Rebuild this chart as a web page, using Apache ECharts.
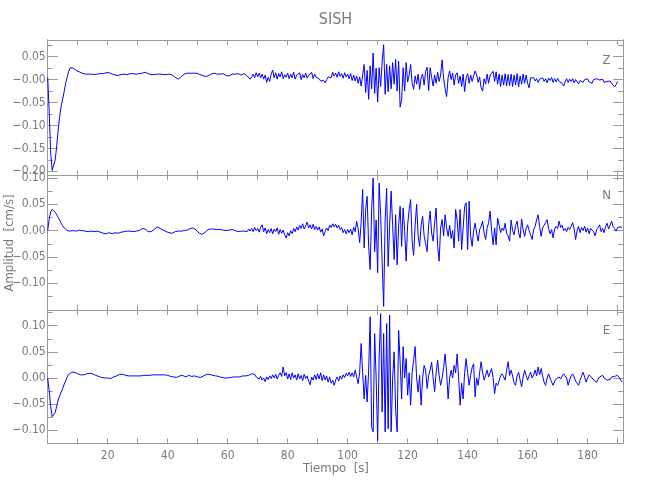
<!DOCTYPE html>
<html><head><meta charset="utf-8">
<script src="https://cdn.jsdelivr.net/npm/echarts@6/dist/echarts.min.js"></script>
<style>html,body{margin:0;padding:0;background:#fff}#c{width:650px;height:500px}</style>
</head><body><div id="c"></div>
<script>
// sample step of the traces (seconds)
const dt = 0.5;

// Z component, one row = 10 s
const zValues = [
0.005,-0.07,-0.16,-0.198,-0.196,-0.175,-0.145,-0.11,-0.08,-0.058,-0.042,-0.026,-0.008,0.006,0.018,0.026,0.027,0.025,0.022,0.02,
0.018,0.017,0.016,0.014,0.013,0.012,0.012,0.012,0.013,0.012,0.012,0.011,0.012,0.012,0.013,0.013,0.012,0.013,0.014,0.015,
0.016,0.015,0.013,0.012,0.011,0.010,0.010,0.009,0.010,0.011,0.011,0.012,0.012,0.011,0.012,0.013,0.012,0.013,0.013,0.012,
0.013,0.013,0.014,0.014,0.015,0.016,0.015,0.013,0.012,0.011,0.010,0.011,0.012,0.012,0.013,0.012,0.012,0.011,0.012,0.011,
0.011,0.012,0.011,0.010,0.008,0.005,0.002,0.001,0.003,0.006,0.009,0.012,0.014,0.014,0.013,0.014,0.015,0.014,0.013,0.014,
0.013,0.012,0.011,0.009,0.008,0.007,0.006,0.008,0.010,0.012,0.013,0.014,0.014,0.012,0.011,0.012,0.013,0.013,0.011,0.009,
0.007,0.008,0.010,0.012,0.013,0.012,0.011,0.013,0.012,0.010,0.012,0.013,0.011,0.008,0.005,0.001,0.006,0.012,0.004,0.015,
0.006,0.014,0.004,0.012,0.001,0.010,-0.006,0.005,-0.004,0.012,0.021,0.004,0.015,0.001,0.013,0.006,0.017,0.002,0.011,0.005,
0.014,0.002,0.012,0.004,0.016,0.001,0.010,0.006,0.015,0.000,0.011,0.004,0.014,0.003,0.009,0.007,0.016,0.002,0.012,0.005,
0.008,0.002,-0.003,-0.006,-0.002,-0.007,0.000,0.006,0.010,0.004,0.016,0.008,0.014,0.005,0.017,0.007,0.013,0.003,0.015,0.006,
0.012,0.002,0.013,-0.002,0.010,-0.003,0.008,-0.008,0.006,-0.014,-0.010,0.033,-0.028,0.020,-0.043,0.030,-0.020,0.058,-0.030,0.025,
-0.049,0.026,-0.015,0.040,0.076,-0.032,0.033,-0.026,0.030,-0.020,0.037,-0.010,0.044,-0.025,0.040,-0.060,-0.045,0.026,-0.025,0.037,
-0.005,0.010,0.033,-0.008,-0.021,0.008,-0.010,0.012,-0.021,0.004,0.012,-0.012,0.018,0.027,-0.024,0.026,0.005,-0.014,0.010,-0.008,
0.016,-0.004,0.010,0.043,0.002,-0.020,-0.037,0.005,0.019,0.000,0.014,-0.012,0.010,0.015,-0.008,0.008,-0.015,0.012,-0.026,0.004,
0.013,-0.008,0.010,-0.004,0.008,0.019,0.010,-0.006,0.006,-0.018,-0.025,0.002,-0.010,0.012,-0.008,0.010,0.006,0.018,-0.004,0.017,
-0.010,0.012,-0.015,0.010,-0.012,0.013,-0.014,0.011,-0.013,0.012,-0.015,0.010,-0.012,0.013,-0.016,0.008,-0.010,0.012,-0.008,0.010,
-0.008,-0.018,0.004,0.000,0.004,-0.003,0.002,-0.006,0.001,-0.003,0.004,-0.004,0.002,-0.007,0.003,-0.002,0.005,-0.006,0.002,-0.005,
0.003,-0.004,0.000,-0.008,-0.014,-0.005,0.002,-0.006,0.001,-0.004,0.002,-0.007,0.000,-0.003,-0.009,-0.002,0.001,-0.006,0.000,-0.004,
0.002,-0.005,-0.002,-0.008,0.000,-0.004,0.002,0.005,-0.001,-0.004,0.001,-0.006,-0.002,-0.004,0.000,-0.003,-0.008,-0.012,-0.016,-0.011,
-0.004
];

// N component
const nValues = [
0.000,0.022,0.036,0.040,0.039,0.035,0.030,0.025,0.020,0.014,0.009,0.005,0.002,0.000,-0.001,-0.001,-0.001,0.000,0.000,-0.001,
0.000,0.001,0.001,0.000,-0.001,-0.001,-0.002,-0.002,-0.001,-0.001,-0.002,-0.002,-0.001,-0.001,-0.002,-0.003,-0.004,-0.005,-0.006,-0.006,
-0.005,-0.004,-0.005,-0.006,-0.005,-0.004,-0.004,-0.005,-0.004,-0.003,-0.002,-0.002,-0.001,-0.001,-0.002,-0.001,-0.001,-0.002,-0.002,-0.001,
-0.001,0.000,0.002,0.004,0.005,0.003,0.000,-0.002,-0.003,-0.002,0.000,0.002,0.005,0.007,0.006,0.004,0.002,0.001,0.000,-0.002,
-0.003,-0.004,-0.004,-0.005,-0.004,-0.002,-0.001,-0.001,-0.002,-0.001,-0.001,0.000,0.000,0.001,0.003,0.004,0.005,0.005,0.003,0.001,
-0.002,-0.005,-0.007,-0.007,-0.006,-0.003,0.000,0.002,0.003,0.003,0.003,0.003,0.002,0.002,0.002,0.002,0.001,0.001,0.001,0.000,
0.000,0.001,0.002,0.002,0.001,0.000,-0.001,-0.002,-0.002,-0.001,-0.003,-0.001,0.002,-0.002,0.003,-0.001,0.004,-0.002,0.006,0.000,
0.004,-0.003,0.006,0.011,-0.002,0.005,-0.006,0.002,-0.004,0.004,-0.006,0.003,-0.002,0.005,-0.007,0.002,-0.005,0.001,-0.008,-0.014,
-0.004,-0.010,0.000,-0.006,0.004,-0.002,0.007,0.001,0.010,0.004,0.013,0.003,0.009,0.016,0.005,0.011,0.003,0.012,0.002,0.008,
0.001,0.007,-0.003,0.003,-0.010,-0.002,0.005,0.000,0.010,0.006,0.013,0.007,0.012,0.005,0.010,0.002,0.006,-0.004,0.002,-0.006,
0.002,-0.004,0.003,-0.008,0.006,-0.002,0.018,0.004,-0.023,0.015,0.078,-0.033,0.040,0.065,-0.030,-0.074,0.040,0.100,-0.040,0.020,
-0.080,0.090,0.030,-0.060,-0.144,0.020,0.080,-0.068,0.010,0.075,0.010,-0.055,0.030,-0.065,0.010,0.046,-0.030,0.043,0.000,-0.058,
0.010,0.040,0.059,-0.020,-0.047,0.010,0.050,-0.010,-0.030,0.010,0.027,-0.010,-0.025,-0.040,0.010,0.037,-0.005,-0.020,0.015,0.043,
-0.030,-0.058,0.005,0.021,-0.010,0.030,0.005,-0.011,0.010,-0.015,0.000,-0.033,0.040,0.020,-0.020,0.040,-0.036,-0.039,0.046,0.053,
-0.036,0.056,-0.010,-0.030,0.000,0.014,-0.005,-0.020,0.002,0.008,0.018,-0.005,-0.017,0.005,0.015,0.037,0.000,-0.027,0.005,-0.027,
0.024,0.010,-0.004,0.005,0.000,0.014,-0.005,-0.010,-0.020,0.020,0.000,-0.008,0.010,0.018,-0.004,-0.014,0.022,0.002,-0.011,0.004,
0.011,0.000,-0.008,-0.017,0.002,0.008,0.020,0.030,0.008,-0.011,0.005,0.010,0.015,0.021,0.004,-0.006,0.002,-0.014,0.003,0.008,
0.004,0.018,0.006,0.010,0.000,0.004,-0.002,0.006,0.002,0.008,0.015,0.004,-0.017,0.000,0.008,-0.004,0.006,0.000,0.008,-0.003,
0.005,-0.006,0.004,0.007,-0.002,-0.010,0.002,0.006,0.011,-0.002,0.004,-0.004,0.008,0.014,0.003,0.010,0.018,0.008,0.004,-0.001,
0.006,0.003,0.007,0.006
];

// E component
const eValues = [
0.000,-0.025,-0.055,-0.074,-0.075,-0.066,-0.054,-0.042,-0.034,-0.027,-0.020,-0.012,-0.005,0.002,0.007,0.010,0.011,0.012,0.011,0.010,
0.008,0.007,0.006,0.006,0.006,0.007,0.008,0.009,0.009,0.009,0.008,0.007,0.005,0.004,0.003,0.002,0.001,0.000,0.000,-0.001,
0.000,0.000,-0.001,0.000,0.002,0.003,0.004,0.006,0.007,0.008,0.007,0.006,0.005,0.005,0.004,0.005,0.004,0.005,0.004,0.005,
0.004,0.005,0.004,0.005,0.005,0.006,0.005,0.006,0.005,0.006,0.006,0.007,0.006,0.007,0.006,0.007,0.006,0.007,0.006,0.006,
0.005,0.004,0.003,0.002,0.002,0.001,0.001,0.002,0.004,0.005,0.005,0.003,0.002,0.004,0.005,0.004,0.003,0.003,0.004,0.003,
0.002,0.002,0.001,0.002,0.004,0.006,0.007,0.008,0.007,0.006,0.005,0.004,0.004,0.004,0.003,0.002,0.001,0.001,0.000,0.000,
0.000,0.001,0.001,0.002,0.002,0.001,0.002,0.003,0.002,0.003,0.004,0.003,0.004,0.003,0.005,0.004,0.008,0.005,0.007,0.002,
0.004,-0.002,0.003,-0.004,0.000,-0.007,0.002,-0.003,0.004,-0.001,0.006,0.000,0.007,-0.002,0.005,0.010,0.003,0.021,0.004,0.010,
-0.002,0.008,-0.003,0.010,0.000,0.006,-0.004,0.008,-0.002,0.005,-0.005,0.007,-0.001,0.004,-0.006,-0.013,0.002,-0.004,0.006,-0.003,
0.008,-0.002,0.010,-0.005,0.006,-0.004,0.004,-0.008,0.002,-0.010,-0.004,-0.014,-0.004,0.002,-0.006,0.004,-0.002,0.006,0.001,0.009,
0.004,0.011,0.003,0.010,0.002,0.015,0.002,-0.011,0.010,0.066,0.010,-0.040,0.005,-0.046,0.015,0.117,-0.094,-0.103,0.085,0.000,
-0.120,0.040,0.123,-0.065,0.085,-0.103,0.104,-0.097,0.120,-0.103,0.000,0.050,-0.060,-0.103,0.091,0.030,-0.040,0.060,0.000,0.037,
-0.033,0.010,-0.052,0.010,0.034,0.060,0.000,-0.027,0.005,-0.052,0.000,0.024,0.015,-0.020,0.005,0.015,0.030,0.000,-0.026,0.010,
0.034,0.005,-0.014,0.000,0.020,0.046,0.010,-0.040,0.000,0.015,0.000,0.024,0.010,0.046,0.000,-0.052,-0.010,-0.040,0.010,0.037,
0.010,-0.014,0.005,0.020,0.027,-0.036,0.000,-0.014,0.010,0.031,0.010,-0.004,0.005,0.015,0.002,0.010,0.018,0.000,-0.030,-0.010,
-0.014,-0.005,0.004,0.008,0.002,-0.004,0.015,0.031,0.005,0.015,0.004,-0.010,-0.014,0.004,0.011,-0.004,-0.017,0.002,0.015,0.005,
-0.004,0.004,0.011,0.000,0.006,0.015,0.004,0.021,0.006,0.018,0.004,-0.008,-0.014,0.000,0.008,0.000,-0.008,-0.014,-0.006,-0.002,
-0.004,0.002,-0.002,0.004,0.008,0.011,0.000,-0.014,-0.004,0.004,0.008,0.002,-0.006,-0.010,-0.014,-0.004,0.004,0.011,0.002,-0.008,
0.000,0.006,0.008,0.000,-0.004,-0.006,-0.008,-0.002,0.002,0.004,0.005,0.000,-0.002,-0.004,-0.006,-0.003,0.002,0.000,0.003,0.004,
0.005,0.001,-0.004,-0.008
];

// axes
const timeRange = [0, 191.9];
const xTicks = [0,10,20,30,40,50,60,70,80,90,100,110,120,130,140,150,160,170,180,190];
const xTickLabels = [20,40,60,80,100,120,140,160,180];

const zRange = [-0.2087, 0.0864];
const zTickValues = [0.05, 0, -0.05, -0.10, -0.15, -0.20];
const zTickLabels = ['0.05', '\u22120.00', '\u22120.05', '\u22120.10', '\u22120.15', '\u22120.20'];
const zMinorTicks = [0.075, 0.025, -0.025, -0.075, -0.125, -0.175];

const nRange = [-0.1508, 0.105];
const nTickValues = [0.10, 0.05, 0, -0.05, -0.10];
const nTickLabels = ['0.10', '0.05', '0.00', '\u22120.05', '\u22120.10'];
const nMinorTicks = [0.075, 0.025, -0.025, -0.075, -0.125];

const eRange = [-0.1249, 0.130];
const eTickValues = [0.10, 0.05, 0, -0.05, -0.10];
const eTickLabels = ['0.10', '0.05', '0.00', '\u22120.05', '\u22120.10'];
const eMinorTicks = [0.125, 0.075, 0.025, -0.025, -0.075];

const componentNames = ['Z', 'N', 'E'];

const AX = '#9a9a9a', TXT = '#7a7a7a', LINE = '#0000ff';
const FONT = "'Liberation Sans Narrow','DejaVu Sans Condensed','Roboto Condensed',sans-serif";

function pairs(vals) { return vals.map((v, i) => [i * dt, v]); }

const gridDefs = [
  {left: 47.7, right: 26.7, top: 40, height: 135.3},
  {left: 47.7, right: 26.7, top: 175.3, height: 134.7},
  {left: 47.7, right: 26.7, top: 310, height: 133.3}
].map(g => Object.assign({outerBoundsMode: 'none', containLabel: false}, g));

const xAxes = [];
for (let gi = 0; gi < 3; gi++) {
  ['bottom', 'top'].forEach(pos => {
    const showLab = (gi === 2 && pos === 'bottom');
    xAxes.push({
      type: 'value', gridIndex: gi, position: pos, min: timeRange[0], max: timeRange[1],
      splitLine: {show: false},
      axisLine: {show: true, onZero: false, lineStyle: {color: AX, width: 1}},
      axisTick: {show: true, inside: true, length: 5, customValues: xTicks, lineStyle: {color: AX}},
      axisLabel: showLab ? {show: true, customValues: xTickLabels, color: TXT, fontSize: 12, fontFamily: FONT, margin: 7}
                         : {show: false}
    });
  });
}

function panelY(gi, range, vals, labs, minor) {
  const base = {
    type: 'value', gridIndex: gi, min: range[0], max: range[1],
    splitLine: {show: false},
    axisLine: {show: true, onZero: false, lineStyle: {color: AX, width: 1}}
  };
  const fmt = v => { const k = vals.findIndex(x => Math.abs(x - v) < 1e-9); return k >= 0 ? labs[k] : ''; };
  return [
    Object.assign({}, base, {position: 'left',
      axisTick: {show: true, inside: true, length: 10, customValues: vals, lineStyle: {color: AX}},
      axisLabel: {show: true, customValues: vals, formatter: fmt, color: TXT, fontSize: 12, fontFamily: FONT, margin: 2}}),
    Object.assign({}, base, {position: 'left',
      axisTick: {show: true, inside: true, length: 5, customValues: minor, lineStyle: {color: AX}},
      axisLabel: {show: false}}),
    Object.assign({}, base, {position: 'right',
      axisTick: {show: true, inside: true, length: 10, customValues: vals, lineStyle: {color: AX}},
      axisLabel: {show: false}}),
    Object.assign({}, base, {position: 'right',
      axisTick: {show: true, inside: true, length: 5, customValues: minor, lineStyle: {color: AX}},
      axisLabel: {show: false}})
  ];
}

const yAxes = [].concat(
  panelY(0, zRange, zTickValues, zTickLabels, zMinorTicks),
  panelY(1, nRange, nTickValues, nTickLabels, nMinorTicks),
  panelY(2, eRange, eTickValues, eTickLabels, eMinorTicks)
);

const traces = [zValues, nValues, eValues];
const series = traces.map((vals, i) => ({
  type: 'line', name: componentNames[i], xAxisIndex: i * 2, yAxisIndex: i * 4,
  data: pairs(vals), showSymbol: false, symbol: 'none', sampling: null,
  lineStyle: {color: LINE, width: 1}, clip: true, silent: true
}));

const textStyle = (t, x, y, size, extra) => ({
  type: 'text', x: x, y: y, silent: true,
  style: Object.assign({text: t, fill: TXT, font: size + 'px ' + FONT, textAlign: 'center', textVerticalAlign: 'middle'}, extra || {})
});

const graphics = [
  textStyle('SISH', 335.5, 20, 16),
  textStyle('Tiempo  [s]', 336, 469, 13),
  Object.assign(textStyle('Amplitud  [cm/s]', 0, 0, 13), {x: 10, y: 243, rotation: Math.PI / 2}),
  textStyle(componentNames[0], 606.5, 61, 13),
  textStyle(componentNames[1], 606.5, 196, 13),
  textStyle(componentNames[2], 606.5, 331, 13)
];

const chart = echarts.init(document.getElementById('c'), null, {renderer: 'canvas'});
chart.setOption({
  animation: false,
  backgroundColor: '#ffffff',
  grid: gridDefs,
  xAxis: xAxes,
  yAxis: yAxes,
  series: series,
  graphic: graphics
});
</script></body></html>
